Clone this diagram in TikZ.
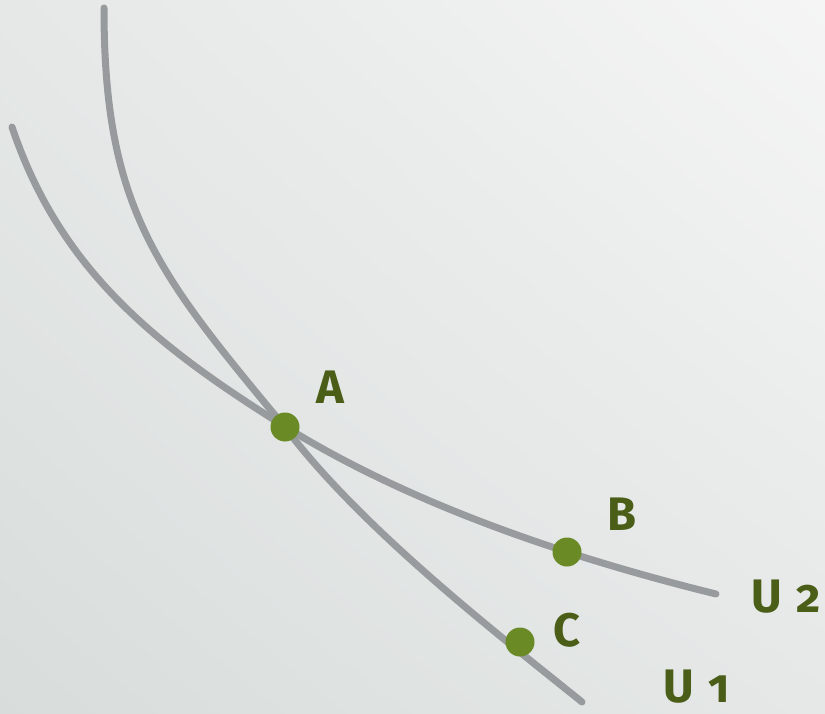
\documentclass[tikz,border=0pt]{standalone}
\usepackage{fontspec}
\setmainfont{Fira Sans}[Numbers=OldStyle]
\usetikzlibrary{shadings}
\definecolor{bgdark}{RGB}{216, 221, 220}
\definecolor{bgmid}{RGB}{229, 232, 231}
\definecolor{bglight}{RGB}{245, 245, 245}
\definecolor{curvegray}{RGB}{151, 155, 157}
\definecolor{dotgreen}{RGB}{106, 138, 37}
\definecolor{labelgreen}{RGB}{75, 94, 24}

\begin{document}
\begin{tikzpicture}[
    x=1pt, y=-1pt,
    curve/.style={draw=curvegray, line width=7pt, line cap=round},
    pt/.style={circle, fill=dotgreen, minimum size=29pt, inner sep=0pt},
    lbl/.style={text=labelgreen, font=\fontsize{47}{47}\selectfont\bfseries,
                inner sep=0pt, text depth=0pt, anchor=base west}
]

% Background
\shade[upper left=bgmid, upper right=bglight, lower left=bgdark, lower right=bgmid]
    (0,0) rectangle (825,714);
\useasboundingbox (0,0) rectangle (825,714);

% Points
\coordinate (u1top) at (104,8);
\coordinate (u1end) at (582,702);
\coordinate (u2top) at (12,127);
\coordinate (u2end) at (716,594);
\coordinate (cross) at (284,426);

% Indifference curves
\draw[curve] (u1top) .. controls (104,208) and (156,272) .. (cross)
                     .. controls (362,530) and (504,639) .. (u1end);
\draw[curve] (u2top) .. controls (60,270) and (156,346) .. (cross)
                     .. controls (411,505) and (570,558) .. (u2end);

\node[pt] (ptA) at (285,427) {};
\node[pt] (ptB) at (567,552) {};
\node[pt] (ptC) at (520,642) {};

% Labels
\node[lbl] (labA) at (316,403) {A};
\node[lbl] (labB) at (607,530) {B};
\node[lbl] (labC) at (553,646) {C};
\node[lbl] (labU2) at (751,612) {U\hspace{4pt} 2};
\node[lbl] (labU1) at (663,702) {U\hspace{4pt} 1};

\end{tikzpicture}
\end{document}
